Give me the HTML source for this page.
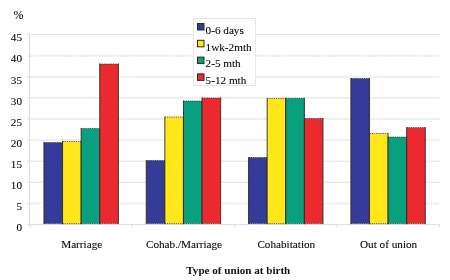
<!DOCTYPE html>
<html><head><meta charset="utf-8"><style>
html,body{margin:0;padding:0;background:#fff;width:450px;height:280px;overflow:hidden}
svg{display:block;will-change:transform}
.t{font-family:"Liberation Serif",serif;font-size:11.2px;fill:#000;stroke:#000;stroke-width:0.08px}
.l{font-family:"Liberation Serif",serif;font-size:11.2px;fill:#000;stroke:#000;stroke-width:0.08px}
.b{font-family:"Liberation Serif",serif;font-size:11.1px;font-weight:bold;fill:#111}
</style></head><body>
<svg width="450" height="280" viewBox="0 0 450 280">
<line x1="27" y1="224.50" x2="439.5" y2="224.50" stroke="#e0e0e0" stroke-width="1"/>
<line x1="27" y1="202.99" x2="439.5" y2="202.99" stroke="#f0f0f0" stroke-width="1"/>
<line x1="27" y1="203.99" x2="439.5" y2="203.99" stroke="#e4e4e4" stroke-width="1" stroke-dasharray="2 1.1"/>
<line x1="27" y1="182.28" x2="439.5" y2="182.28" stroke="#e0e0e0" stroke-width="1"/>
<line x1="27" y1="161.17" x2="439.5" y2="161.17" stroke="#e0e0e0" stroke-width="1"/>
<line x1="27" y1="140.06" x2="439.5" y2="140.06" stroke="#e0e0e0" stroke-width="1"/>
<line x1="27" y1="118.94" x2="439.5" y2="118.94" stroke="#e0e0e0" stroke-width="1"/>
<line x1="27" y1="97.83" x2="439.5" y2="97.83" stroke="#e0e0e0" stroke-width="1"/>
<line x1="27" y1="76.32" x2="439.5" y2="76.32" stroke="#f0f0f0" stroke-width="1"/>
<line x1="27" y1="77.32" x2="439.5" y2="77.32" stroke="#e4e4e4" stroke-width="1" stroke-dasharray="2 1.1"/>
<line x1="27" y1="55.21" x2="439.5" y2="55.21" stroke="#f0f0f0" stroke-width="1"/>
<line x1="27" y1="56.21" x2="439.5" y2="56.21" stroke="#e4e4e4" stroke-width="1" stroke-dasharray="2 1.1"/>
<line x1="27" y1="34.50" x2="439.5" y2="34.50" stroke="#e0e0e0" stroke-width="1"/>
<line x1="29.5" y1="34" x2="29.5" y2="227" stroke="#dedede" stroke-width="1.2"/>
<line x1="30.00" y1="224" x2="30.00" y2="227.5" stroke="#dcdcdc" stroke-width="1"/>
<line x1="132.31" y1="224" x2="132.31" y2="227.5" stroke="#dcdcdc" stroke-width="1"/>
<line x1="234.62" y1="224" x2="234.62" y2="227.5" stroke="#dcdcdc" stroke-width="1"/>
<line x1="336.93" y1="224" x2="336.93" y2="227.5" stroke="#dcdcdc" stroke-width="1"/>
<line x1="439.24" y1="224" x2="439.24" y2="227.5" stroke="#dcdcdc" stroke-width="1"/>
<rect x="43.95" y="142.50" width="18.60" height="81.10" fill="#353b98"/>
<path d="M43.95 142.50H62.55M43.95 223.60H62.55" stroke="#2a2a22" stroke-width="1" stroke-dasharray="1.2 1" fill="none" opacity="0.75"/>
<path d="M43.95 142.00V224.10M62.55 142.00V224.10" stroke="#2a2a22" stroke-width="1" fill="none" opacity="0.9"/>
<rect x="62.55" y="141.50" width="18.60" height="82.10" fill="#ffe71c"/>
<path d="M62.55 141.50H81.15M62.55 223.60H81.15" stroke="#2a2a22" stroke-width="1" stroke-dasharray="1.2 1" fill="none" opacity="0.75"/>
<path d="M62.55 141.00V224.10M81.15 141.00V224.10" stroke="#2a2a22" stroke-width="1" fill="none" opacity="0.9"/>
<rect x="81.15" y="128.50" width="18.60" height="95.10" fill="#08a07f"/>
<path d="M81.15 128.50H99.75M81.15 223.60H99.75" stroke="#2a2a22" stroke-width="1" stroke-dasharray="1.2 1" fill="none" opacity="0.75"/>
<path d="M81.15 128.00V224.10M99.75 128.00V224.10" stroke="#2a2a22" stroke-width="1" fill="none" opacity="0.9"/>
<rect x="99.75" y="64.00" width="18.60" height="159.60" fill="#ea2a2f"/>
<path d="M99.75 64.00H118.35M99.75 223.60H118.35" stroke="#2a2a22" stroke-width="1" stroke-dasharray="1.2 1" fill="none" opacity="0.75"/>
<path d="M99.75 63.50V224.10M118.35 63.50V224.10" stroke="#2a2a22" stroke-width="1" fill="none" opacity="0.9"/>
<rect x="146.26" y="160.50" width="18.60" height="63.10" fill="#353b98"/>
<path d="M146.26 160.50H164.86M146.26 223.60H164.86" stroke="#2a2a22" stroke-width="1" stroke-dasharray="1.2 1" fill="none" opacity="0.75"/>
<path d="M146.26 160.00V224.10M164.86 160.00V224.10" stroke="#2a2a22" stroke-width="1" fill="none" opacity="0.9"/>
<rect x="164.86" y="117.00" width="18.60" height="106.60" fill="#ffe71c"/>
<path d="M164.86 117.00H183.46M164.86 223.60H183.46" stroke="#2a2a22" stroke-width="1" stroke-dasharray="1.2 1" fill="none" opacity="0.75"/>
<path d="M164.86 116.50V224.10M183.46 116.50V224.10" stroke="#2a2a22" stroke-width="1" fill="none" opacity="0.9"/>
<rect x="183.46" y="101.00" width="18.60" height="122.60" fill="#08a07f"/>
<path d="M183.46 101.00H202.06M183.46 223.60H202.06" stroke="#2a2a22" stroke-width="1" stroke-dasharray="1.2 1" fill="none" opacity="0.75"/>
<path d="M183.46 100.50V224.10M202.06 100.50V224.10" stroke="#2a2a22" stroke-width="1" fill="none" opacity="0.9"/>
<rect x="202.06" y="98.00" width="18.60" height="125.60" fill="#ea2a2f"/>
<path d="M202.06 98.00H220.66M202.06 223.60H220.66" stroke="#2a2a22" stroke-width="1" stroke-dasharray="1.2 1" fill="none" opacity="0.75"/>
<path d="M202.06 97.50V224.10M220.66 97.50V224.10" stroke="#2a2a22" stroke-width="1" fill="none" opacity="0.9"/>
<rect x="248.57" y="157.50" width="18.60" height="66.10" fill="#353b98"/>
<path d="M248.57 157.50H267.17M248.57 223.60H267.17" stroke="#2a2a22" stroke-width="1" stroke-dasharray="1.2 1" fill="none" opacity="0.75"/>
<path d="M248.57 157.00V224.10M267.17 157.00V224.10" stroke="#2a2a22" stroke-width="1" fill="none" opacity="0.9"/>
<rect x="267.17" y="98.50" width="18.60" height="125.10" fill="#ffe71c"/>
<path d="M267.17 98.50H285.77M267.17 223.60H285.77" stroke="#2a2a22" stroke-width="1" stroke-dasharray="1.2 1" fill="none" opacity="0.75"/>
<path d="M267.17 98.00V224.10M285.77 98.00V224.10" stroke="#2a2a22" stroke-width="1" fill="none" opacity="0.9"/>
<rect x="285.77" y="98.30" width="18.60" height="125.30" fill="#08a07f"/>
<path d="M285.77 98.30H304.37M285.77 223.60H304.37" stroke="#2a2a22" stroke-width="1" stroke-dasharray="1.2 1" fill="none" opacity="0.75"/>
<path d="M285.77 97.80V224.10M304.37 97.80V224.10" stroke="#2a2a22" stroke-width="1" fill="none" opacity="0.9"/>
<rect x="304.37" y="118.50" width="18.60" height="105.10" fill="#ea2a2f"/>
<path d="M304.37 118.50H322.97M304.37 223.60H322.97" stroke="#2a2a22" stroke-width="1" stroke-dasharray="1.2 1" fill="none" opacity="0.75"/>
<path d="M304.37 118.00V224.10M322.97 118.00V224.10" stroke="#2a2a22" stroke-width="1" fill="none" opacity="0.9"/>
<rect x="350.88" y="78.50" width="18.60" height="145.10" fill="#353b98"/>
<path d="M350.88 78.50H369.48M350.88 223.60H369.48" stroke="#2a2a22" stroke-width="1" stroke-dasharray="1.2 1" fill="none" opacity="0.75"/>
<path d="M350.88 78.00V224.10M369.48 78.00V224.10" stroke="#2a2a22" stroke-width="1" fill="none" opacity="0.9"/>
<rect x="369.48" y="133.50" width="18.60" height="90.10" fill="#ffe71c"/>
<path d="M369.48 133.50H388.08M369.48 223.60H388.08" stroke="#2a2a22" stroke-width="1" stroke-dasharray="1.2 1" fill="none" opacity="0.75"/>
<path d="M369.48 133.00V224.10M388.08 133.00V224.10" stroke="#2a2a22" stroke-width="1" fill="none" opacity="0.9"/>
<rect x="388.08" y="137.00" width="18.60" height="86.60" fill="#08a07f"/>
<path d="M388.08 137.00H406.68M388.08 223.60H406.68" stroke="#2a2a22" stroke-width="1" stroke-dasharray="1.2 1" fill="none" opacity="0.75"/>
<path d="M388.08 136.50V224.10M406.68 136.50V224.10" stroke="#2a2a22" stroke-width="1" fill="none" opacity="0.9"/>
<rect x="406.68" y="127.60" width="18.60" height="96.00" fill="#ea2a2f"/>
<path d="M406.68 127.60H425.28M406.68 223.60H425.28" stroke="#2a2a22" stroke-width="1" stroke-dasharray="1.2 1" fill="none" opacity="0.75"/>
<path d="M406.68 127.10V224.10M425.28 127.10V224.10" stroke="#2a2a22" stroke-width="1" fill="none" opacity="0.9"/>
<text x="22" y="231.3" text-anchor="end" class="t">0</text>
<text x="22" y="210.2" text-anchor="end" class="t">5</text>
<text x="22" y="189.1" text-anchor="end" class="t">10</text>
<text x="22" y="168.0" text-anchor="end" class="t">15</text>
<text x="22" y="146.9" text-anchor="end" class="t">20</text>
<text x="22" y="125.7" text-anchor="end" class="t">25</text>
<text x="22" y="104.6" text-anchor="end" class="t">30</text>
<text x="22" y="83.5" text-anchor="end" class="t">35</text>
<text x="22" y="62.4" text-anchor="end" class="t">40</text>
<text x="22" y="41.3" text-anchor="end" class="t">45</text>
<text x="13.6" y="18.9" class="t" style="font-size:12px">%</text>
<text x="81.7" y="247.7" text-anchor="middle" class="t">Marriage</text>
<text x="184.0" y="247.7" text-anchor="middle" class="t">Cohab./Marriage</text>
<text x="286.3" y="247.7" text-anchor="middle" class="t">Cohabitation</text>
<text x="388.6" y="247.7" text-anchor="middle" class="t">Out of union</text>
<text x="238.3" y="273.5" text-anchor="middle" class="b">Type of union at birth</text>
<rect x="193.5" y="18.5" width="62" height="67" fill="#fff" stroke="#e6e6e6" stroke-width="1"/>
<rect x="197.5" y="23.5" width="6.5" height="6.5" fill="#353b98" stroke="#2a2a22" stroke-width="1"/>
<text x="205.6" y="34.0" class="l">0-6 days</text>
<rect x="197.5" y="40.3" width="6.5" height="6.5" fill="#ffe71c" stroke="#2a2a22" stroke-width="1"/>
<text x="205.6" y="50.7" class="l">1wk-2mth</text>
<rect x="197.5" y="57.1" width="6.5" height="6.5" fill="#08a07f" stroke="#2a2a22" stroke-width="1"/>
<text x="205.6" y="67.4" class="l">2-5 mth</text>
<rect x="197.5" y="73.9" width="6.5" height="6.5" fill="#ea2a2f" stroke="#2a2a22" stroke-width="1"/>
<text x="205.6" y="84.1" class="l">5-12 mth</text>
</svg>
</body></html>
